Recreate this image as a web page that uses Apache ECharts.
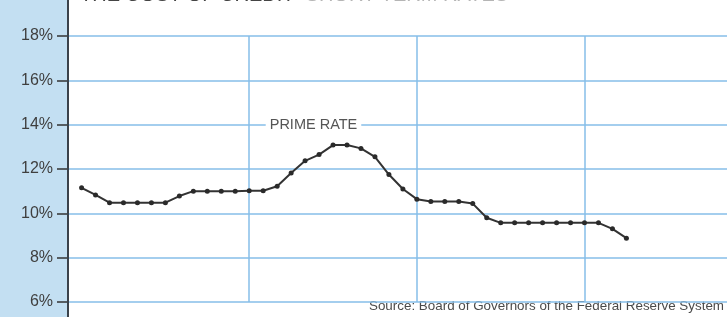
<!DOCTYPE html>
<html>
<head>
<meta charset="utf-8">
<script src="https://cdn.jsdelivr.net/npm/echarts@6/dist/echarts.min.js"></script>
<style>
  html, body { margin: 0; padding: 0; background: #fff; }
  #chart { width: 727px; height: 317px; }
</style>
</head>
<body>
<div id="chart"></div>
<script>
// monthly prime rate, Jan 1983 .. Apr 1986
const months = [
  '1983-01', '1983-02', '1983-03', '1983-04', '1983-05', '1983-06',
  '1983-07', '1983-08', '1983-09', '1983-10', '1983-11', '1983-12',
  '1984-01', '1984-02', '1984-03', '1984-04', '1984-05', '1984-06',
  '1984-07', '1984-08', '1984-09', '1984-10', '1984-11', '1984-12',
  '1985-01', '1985-02', '1985-03', '1985-04', '1985-05', '1985-06',
  '1985-07', '1985-08', '1985-09', '1985-10', '1985-11', '1985-12',
  '1986-01', '1986-02', '1986-03', '1986-04'
];
const primeRate = [
  11.15, 10.83, 10.48, 10.48, 10.48, 10.48, 10.48, 10.78, 11.0, 11.0, 11.0, 11.0,
  11.02, 11.02, 11.22, 11.82, 12.37, 12.65, 13.08, 13.08, 12.93, 12.55, 11.75, 11.1,
  10.64, 10.53, 10.53, 10.53, 10.44, 9.8, 9.57, 9.57, 9.57, 9.57, 9.57, 9.57,
  9.57, 9.57, 9.3, 8.88
];
const yearStarts = [12, 24, 36];   // month index where 1984, 1985, 1986 start
const yTicks = [6, 8, 10, 12, 14, 16, 18];

const gridBlue = '#86bee8';
const inkColor = '#333';

const chart = echarts.init(document.getElementById('chart'));

const option = {
  animation: false,
  backgroundColor: '#fff',
  grid: { left: 69, right: 0, top: 36, bottom: 15 },
  graphic: [
    // blue side panel + dark axis rule, full height
    { type: 'rect', z: -10, shape: { x: 0, y: 0, width: 67, height: 317 }, style: { fill: '#c3dff2' } },
    { type: 'rect', z: 10, shape: { x: 67, y: 0, width: 2, height: 317 }, style: { fill: '#3b424a' } },
    {
      type: 'text', left: 80, top: -15,
      style: {
        text: '{a|THE COST OF CREDIT}{b|  SHORT-TERM RATES}',
        rich: {
          a: { fontSize: 20, fontFamily: 'Liberation Sans', fill: '#444' },
          b: { fontSize: 20, fontFamily: 'Liberation Sans', fill: '#b5b5b5' }
        }
      }
    },
    {
      type: 'text', right: 3, top: 300,
      style: {
        text: 'Source: Board of Governors of the Federal Reserve System',
        fontSize: 13.4, fontFamily: 'Liberation Sans', fill: '#4a4a4a'
      }
    }
  ],
  xAxis: {
    type: 'value',
    min: -0.9,
    max: 46.2,
    show: false
  },
  yAxis: {
    type: 'value',
    position: 'left',
    min: yTicks[0],
    max: yTicks[yTicks.length - 1],
    interval: 2,
    axisLine: { show: false, onZero: false },
    axisTick: { show: true, inside: false, length: 12, lineStyle: { color: inkColor, width: 1.5 } },
    axisLabel: {
      margin: 16,
      formatter: '{value}%',
      color: '#3f3f3f',
      fontSize: 16,
      fontFamily: 'Liberation Sans'
    },
    splitLine: { show: true, lineStyle: { color: gridBlue, width: 1.5 } }
  },
  series: [{
    type: 'line',
    data: primeRate.map((v, i) => [i, v]),
    symbol: 'circle',
    symbolSize: 5,
    lineStyle: { color: inkColor, width: 2 },
    itemStyle: { color: '#2a2a2a' },
    z: 5,
    markLine: {
      silent: true,
      symbol: 'none',
      label: { show: false },
      lineStyle: { color: gridBlue, width: 1.5, type: 'solid' },
      data: yearStarts.map(m => ({ xAxis: m }))
    },
    markPoint: {
      silent: true,
      symbol: 'rect',
      symbolSize: 1,
      itemStyle: { color: 'rgba(0,0,0,0)' },
      label: {
        show: true,
        position: 'inside',
        formatter: 'PRIME RATE',
        color: '#555',
        fontSize: 14.5,
        fontFamily: 'Liberation Sans',
        backgroundColor: '#fff',
        padding: [2, 4]
      },
      data: [{ coord: [16.6, 14] }]
    }
  }]
};

chart.setOption(option);
</script>
</body>
</html>
